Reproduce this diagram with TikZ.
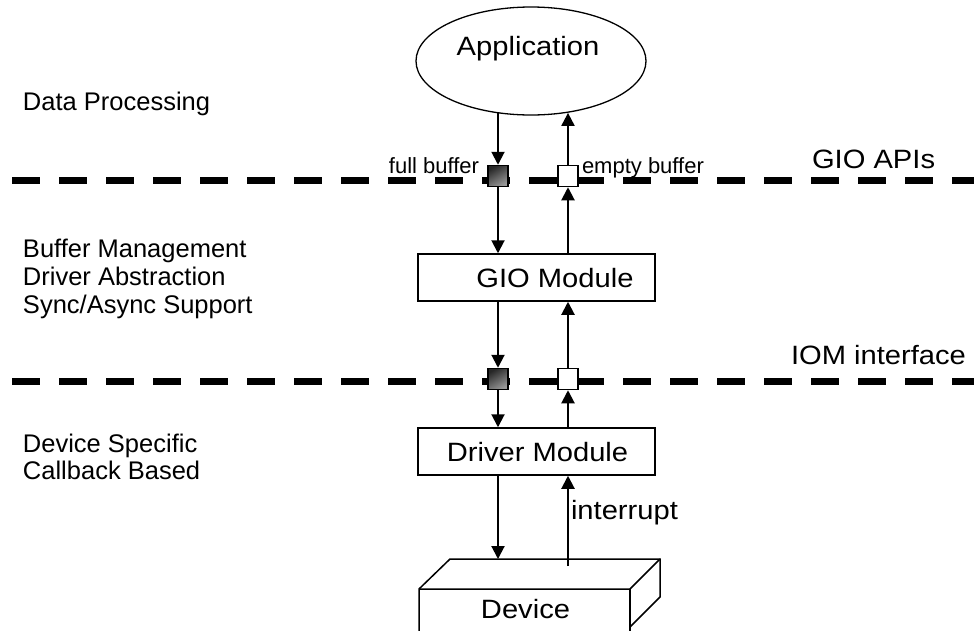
\documentclass[tikz,border=0pt]{standalone}
\usepackage{fontspec}
\setmainfont{Liberation Sans}
\usetikzlibrary{arrows.meta,shapes.geometric}
\newcommand\bigtxt[1]{\scalebox{1.1}[1]{\fontsize{26.5}{30}\selectfont #1}}
\newcommand\sidetxt[1]{{\fontsize{25.5}{28}\selectfont #1}}
\newcommand\buftxt[1]{{\fontsize{22}{25}\selectfont #1}}
\begin{document}
\begin{tikzpicture}[x=1pt,y=-1pt,
  sepline/.style={line width=7pt, dash pattern=on 28pt off 19pt},
  arr/.style={line width=2pt, -{Triangle[length=13pt,width=13pt]}},
  modbox/.style={draw, line width=1.5pt, minimum width=237pt, minimum height=47pt, inner sep=0pt},
  bufbox/.style={draw, line width=1.5pt, minimum width=20pt, minimum height=21pt, inner sep=0pt},
  fullbuf/.style={bufbox, top color=black!85, bottom color=black!40, shading angle=30},
  emptybuf/.style={bufbox, fill=white},
  devline/.style={line width=1.5pt, line join=miter},
  txt/.style={inner sep=0pt, outer sep=0pt}]
\useasboundingbox (0,0) rectangle (974,630);
\fill[white] (0,0) rectangle (974,630);

% separator lines
\coordinate (s1a) at (12,180);
\coordinate (s1b) at (980,180);
\coordinate (s2a) at (12,381);
\coordinate (s2b) at (980,381);
\draw[sepline] (s1a) -- (s1b);
\draw[sepline] (s2a) -- (s2b);

% application
\node[ellipse, draw, line width=1.3pt, minimum width=230pt, minimum height=108pt, inner sep=0pt] (app) at (531,61) {};
\node[txt, anchor=base] (apptxt) at (528,55) {\bigtxt{Application}};

% modules
\node[modbox] (gio) at (536.5,277.5) {};
\node[txt, anchor=base] (giotxt) at (555,287) {\bigtxt{GIO Module}};
\node[modbox] (drv) at (536.5,451.5) {};
\node[txt, anchor=base] (drvtxt) at (537.5,461) {\bigtxt{Driver Module}};

% buffers
\node[fullbuf] (full1) at (498,176) {};
\node[emptybuf] (empty1) at (568,176) {};
\node[fullbuf] (full2) at (498,379) {};
\node[emptybuf] (empty2) at (568,379) {};

\node[txt, anchor=base east] (fulllbl) at (479,173) {\buftxt{full buffer}};
\node[txt, anchor=base west] (emptylbl) at (582,173) {\buftxt{empty buffer}};

% interface labels
\node[txt, anchor=base west] (gioapi) at (812,168) {\bigtxt{GIO APIs}};
\node[txt, anchor=base west] (iom) at (791,364) {\bigtxt{IOM interface}};

% side texts
\node[txt, anchor=base west] (dp) at (23,110) {\sidetxt{Data Processing}};
\node[txt, anchor=base west] (bm) at (23,257) {\sidetxt{Buffer Management}};
\node[txt, anchor=base west] (da) at (23,285) {\sidetxt{Driver Abstraction}};
\node[txt, anchor=base west] (sa) at (23,313) {\sidetxt{Sync/Async Support}};
\node[txt, anchor=base west] (ds) at (23,452) {\sidetxt{Device Specific}};
\node[txt, anchor=base west] (cb) at (23,479) {\sidetxt{Callback Based}};

% device (3D box)
\coordinate (dfl) at (419,589);
\coordinate (dfr) at (630,589);
\coordinate (dbl) at (450,559);
\coordinate (dbr) at (660,559);
\coordinate (drb) at (660,597);
\coordinate (dfrb) at (630,627);
\coordinate (dflb) at (419,640);
\coordinate (dfrl) at (630,640);
\draw[devline] (dflb) -- (dfl) -- (dbl) -- (dbr) -- (drb) -- (dfrb);
\draw[devline] (dfl) -- (dfr) -- (dbr);
\draw[devline] (dfr) -- (dfrl);
\node[txt, anchor=base] (devtxt) at (525.5,618) {\bigtxt{Device}};

\coordinate (devin) at (498,559);
\coordinate (devout) at (568,566);

% connectors
\draw[arr] (full1 |- app.236.6) -- (full1.north);
\draw[arr] (full1.south) -- (full1.south |- gio.north);
\draw[arr] (empty1.south |- gio.north) -- (empty1.south);
\draw[arr] (empty1.north) -- (empty1 |- app.305.9);

\draw[arr] (full2 |- gio.south) -- (full2.north);
\draw[arr] (full2.south) -- (full2.south |- drv.north);
\draw[arr] (empty2.south |- drv.north) -- (empty2.south);
\draw[arr] (empty2.north) -- (empty2 |- gio.south);

\draw[arr] (devin |- drv.south) -- (devin);
\draw[arr] (devout) -- (devout |- drv.south);
\node[txt, anchor=base west] (intr) at (571,519) {\bigtxt{interrupt}};
\end{tikzpicture}
\end{document}
